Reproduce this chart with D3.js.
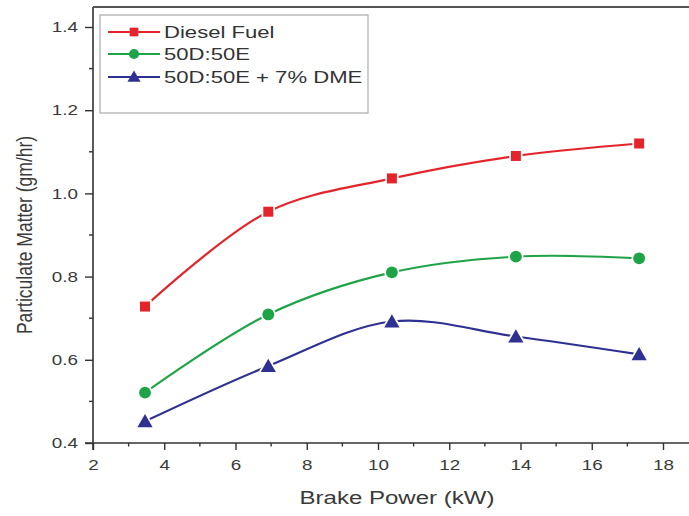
<!DOCTYPE html>
<html>
<head>
<meta charset="utf-8">
<script src="https://cdn.jsdelivr.net/npm/d3@7"></script>
<style>
  html, body { margin: 0; padding: 0; background: #fff; }
  svg { display: block; font-family: "Liberation Sans", Arial, sans-serif; }
</style>
</head>
<body>
<svg id="chart" width="689" height="516"></svg>
<script>
const brakePower = [3.46, 6.92, 10.39, 13.87, 17.33];
const dieselFuel = [0.728, 0.956, 1.036, 1.090, 1.120];
const blend5050 = [0.521, 0.709, 0.810, 0.848, 0.844];
const blendDme = [0.452, 0.585, 0.692, 0.656, 0.613];

const seriesNames = ["Diesel Fuel", "50D:50E", "50D:50E + 7% DME"];
const seriesColors = ["#e3242b", "#1fa347", "#2e3192"];
const seriesSymbols = [d3.symbolSquare, d3.symbolCircle, d3.symbolTriangle];

const xTicks = [2, 4, 6, 8, 10, 12, 14, 16, 18];
const yTicks = [0.4, 0.6, 0.8, 1.0, 1.2, 1.4];

const svg = d3.select("#chart");
const W = 689, H = 516;
const SX = 1.3; // the picture is stretched sideways, text too

const x = d3.scaleLinear().domain([2, 18]).range([93, 663]);
const y = d3.scaleLinear().domain([0.4, 1.4]).range([443, 27]);
const topY = 7;
const axisCol = "#333";
const textCol = "#3a3a3a";

// frame: left and top
svg.append("line").attr("x1", x(2)).attr("x2", x(2)).attr("y1", topY).attr("y2", y(0.4) + 7)
  .attr("stroke", axisCol).attr("stroke-width", 1.6);
svg.append("line").attr("x1", x(2)).attr("x2", W + 5).attr("y1", topY).attr("y2", topY)
  .attr("stroke", "#555").attr("stroke-width", 2);

// bottom axis
const xAxis = svg.append("g").attr("transform", `translate(0,${y(0.4)})`)
  .call(d3.axisBottom(x).tickValues(xTicks).tickFormat(d3.format("d")).tickSize(7).tickSizeOuter(0));
xAxis.select(".domain").remove();
xAxis.append("line").attr("x1", x(2) - 8).attr("x2", W + 5).attr("stroke", axisCol).attr("stroke-width", 1.6);
xAxis.selectAll(".tick line").attr("stroke", axisCol).attr("stroke-width", 1.4);
xAxis.selectAll(".tick text").attr("fill", textCol).style("font-size", "14.5px")
  .attr("y", 0).attr("dy", 27).attr("transform", `scale(${SX},1)`);
svg.append("g").attr("transform", `translate(0,${y(0.4)})`)
  .selectAll("line").data(d3.range(3, 19, 2)).join("line")
  .attr("x1", d => x(d)).attr("x2", d => x(d)).attr("y1", 0).attr("y2", 3.5)
  .attr("stroke", axisCol).attr("stroke-width", 1.4);

// left axis
const yAxis = svg.append("g").attr("transform", `translate(${x(2)},0)`)
  .call(d3.axisLeft(y).tickValues(yTicks).tickFormat(d3.format(".1f")).tickSize(8).tickSizeOuter(0));
yAxis.select(".domain").remove();
yAxis.selectAll(".tick line").attr("stroke", axisCol).attr("stroke-width", 1.4);
yAxis.selectAll(".tick text").attr("fill", textCol).style("font-size", "14.5px")
  .attr("x", -15 / SX).attr("transform", `scale(${SX},1)`);
svg.append("g").attr("transform", `translate(${x(2)},0)`)
  .selectAll("line").data([0.5, 0.7, 0.9, 1.1, 1.3]).join("line")
  .attr("x1", 0).attr("x2", -4).attr("y1", d => y(d)).attr("y2", d => y(d))
  .attr("stroke", axisCol).attr("stroke-width", 1.4);

// axis titles
svg.append("text").attr("transform", `translate(397,504) scale(${SX},1)`).attr("text-anchor", "middle")
  .attr("fill", textCol).style("font-size", "18.5px").text("Brake Power (kW)");
svg.append("text").attr("transform", `translate(32,${y(0.9)}) scale(${SX},1) rotate(-90)`)
  .attr("text-anchor", "middle").attr("fill", textCol).style("font-size", "17.5px")
  .text("Particulate Matter (gm/hr)");

// series
const allSeries = [dieselFuel, blend5050, blendDme];
const line = d3.line().x(d => x(d[0])).y(d => y(d[1])).curve(d3.curveCatmullRom.alpha(0.5));

allSeries.forEach((vals, i) => {
  const pts = brakePower.map((b, j) => [b, vals[j]]);
  svg.append("path").datum(pts).attr("d", line).attr("fill", "none")
    .attr("stroke", seriesColors[i]).attr("stroke-width", 2.2);
  svg.append("g").selectAll("path").data(pts).join("path")
    .attr("transform", d => `translate(${x(d[0])},${y(d[1]) + (i === 2 ? 1.5 : 0)})`)
    .attr("d", d3.symbol().type(seriesSymbols[i]).size(i === 1 ? 110 : 100))
    .attr("fill", seriesColors[i]).attr("stroke", "#fff").attr("stroke-width", 3.5)
    .attr("paint-order", "stroke");
});

// legend
const lg = svg.append("g");
lg.append("rect").attr("x", 100).attr("y", 15).attr("width", 268).attr("height", 98)
  .attr("fill", "#fff").attr("stroke", "#aaa").attr("stroke-width", 1.2);
const rowY = [32, 54, 77];
seriesNames.forEach((name, i) => {
  const ry = rowY[i];
  lg.append("line").attr("x1", 108).attr("x2", 160).attr("y1", ry).attr("y2", ry)
    .attr("stroke", seriesColors[i]).attr("stroke-width", 2);
  lg.append("path").attr("transform", `translate(134,${ry + (i === 2 ? 1 : 0)})`)
    .attr("d", d3.symbol().type(seriesSymbols[i]).size(i === 1 ? 80 : 75))
    .attr("fill", seriesColors[i]);
  lg.append("text").attr("transform", `translate(164,${ry}) scale(${SX},1)`).attr("dy", "0.36em")
    .attr("fill", "#333").style("font-size", "17px").text(name);
});
</script>
</body>
</html>
